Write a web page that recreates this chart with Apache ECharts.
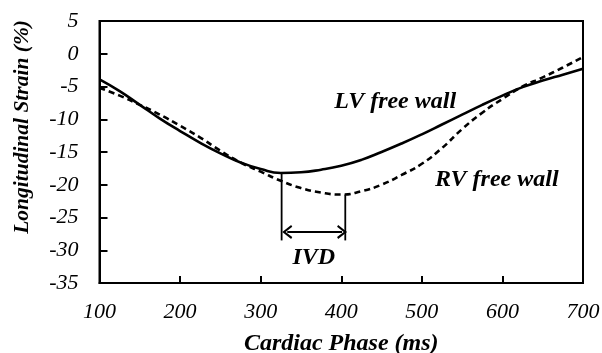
<!DOCTYPE html>
<html>
<head>
<meta charset="utf-8">
<script src="https://cdn.jsdelivr.net/npm/echarts@6/dist/echarts.min.js"></script>
<style>html,body{margin:0;padding:0;background:#fff}#c{width:602px;height:353px}</style>
</head>
<body>
<div id="c"></div>
<script>
var phase = [100,125,150,175,200,225,250,275,300,325,350,375,400,425,450,475,500,525,550,575,600,625,650,675,700];
var lvStrain = [-3.9,-5.7,-7.8,-9.9,-11.8,-13.6,-15.2,-16.6,-17.6,-18.2,-18.1,-17.7,-17.1,-16.2,-15.0,-13.7,-12.3,-10.8,-9.3,-7.8,-6.4,-5.1,-4.1,-3.2,-2.3];
var rvStrain = [-5.2,-6.4,-7.8,-9.3,-11.0,-12.8,-14.8,-16.6,-18.0,-19.4,-20.5,-21.2,-21.5,-21.0,-20.0,-18.5,-16.8,-14.4,-11.5,-9.0,-6.9,-5.0,-3.6,-2.1,-0.5];
var ivdX = [326, 405];
var ivdTop = [-18.2, -21.5];
var ivdBottom = -28.5;
var arrowY = -27.2;
var arrowX = [333, 401];
var xTicks = [100,200,300,400,500,600,700];
var yTicks = [5,0,-5,-10,-15,-20,-25,-30,-35];
var labels = [
  {text:'LV free wall', x:467, y:-7.4},
  {text:'RV free wall', x:593, y:-19.3},
  {text:'IVD', x:366, y:-31.2}
];

var FONT = "'Liberation Serif','Times New Roman',serif";
function zip(a,b){return a.map(function(v,i){return [v,b[i]];});}

var series = [
  {type:'line', data:zip(phase,lvStrain), smooth:true, symbol:'none',
   lineStyle:{color:'#000', width:2.6, type:'solid'}, z:3},
  {type:'line', data:zip(phase,rvStrain), smooth:true, symbol:'none',
   lineStyle:{color:'#000', width:2.6, type:[6,4]}, z:3}
];
ivdX.forEach(function(x,i){
  series.push({type:'line', data:[[x,ivdTop[i]],[x,ivdBottom]], symbol:'none',
    lineStyle:{color:'#000', width:1.8}, z:2});
});
series.push({type:'line', data:[], symbol:'none',
  markLine:{silent:true, symbol:['path://M5,0 L10,8 L8.6,9 L5,3 L1.4,9 L0,8 Z','path://M5,0 L10,8 L8.6,9 L5,3 L1.4,9 L0,8 Z'],
    symbolSize:[14,10], lineStyle:{color:'#000', width:1.8, type:'solid'}, label:{show:false},
    data:[[{coord:[arrowX[0],arrowY]},{coord:[arrowX[1],arrowY]}]]}
});
series.push({type:'scatter', data:labels.map(function(l){return {value:[l.x,l.y], name:l.text};}),
  symbolSize:1, itemStyle:{color:'rgba(0,0,0,0)', opacity:1},
  label:{show:true, position:'inside', formatter:function(p){return p.name;}, opacity:1,
    textBorderWidth:0, fontFamily:FONT, fontSize:24, fontWeight:'bold', fontStyle:'italic', color:'#000'}, z:4});

var chart = echarts.init(document.getElementById('c'));
chart.setOption({
  animation:false,
  grid:{left:99.5, right:19, top:21, bottom:70, containLabel:false, outerBoundsMode:'none',
    show:true, borderColor:'#000', borderWidth:2, backgroundColor:'transparent'},
  xAxis:{type:'value', min:xTicks[0], max:xTicks[xTicks.length-1], interval:100,
    name:'Cardiac Phase (ms)', nameLocation:'middle', nameGap:49,
    nameTextStyle:{fontFamily:FONT, fontSize:24, fontWeight:'bold', fontStyle:'italic', color:'#000'},
    axisLine:{onZero:false, lineStyle:{color:'#000', width:2}},
    axisTick:{inside:true, length:7, lineStyle:{color:'#000', width:2}},
    axisLabel:{fontFamily:FONT, fontSize:22, fontStyle:'italic', color:'#000', margin:18},
    splitLine:{show:false}},
  yAxis:{type:'value', min:yTicks[yTicks.length-1], max:yTicks[0], interval:5,
    axisLine:{onZero:false, lineStyle:{color:'#000', width:2}},
    axisTick:{inside:true, length:8, lineStyle:{color:'#000', width:2}},
    axisLabel:{fontFamily:FONT, fontSize:22, fontStyle:'italic', color:'#000', margin:21},
    splitLine:{show:false}},
  graphic:[{type:'text', left:11, top:20, rotation:Math.PI/2,
    style:{text:'Longitudinal Strain (%)', fontFamily:FONT, fontSize:21.5, fontWeight:'bold', fontStyle:'italic', fill:'#000'}}],
  series:series
});
</script>
</body>
</html>
